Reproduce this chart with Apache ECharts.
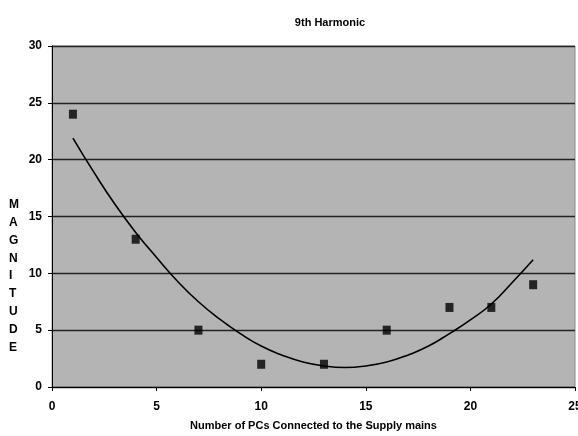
<!DOCTYPE html>
<html>
<head>
<meta charset="utf-8">
<script src="https://cdn.jsdelivr.net/npm/echarts@6/dist/echarts.min.js"></script>
<style>html,body{margin:0;padding:0;background:#fff}#c{width:578px;height:436px}</style>
</head>
<body>
<div id="c"></div>
<script>
var titleText = '9th Harmonic';
var xAxisName = 'Number of PCs Connected to the Supply mains';
var yAxisLetters = ['M','A','G','N','I','T','U','D','E'];
var pcCounts = [1, 4, 7, 10, 13, 16, 19, 21, 23];
var magnitudes = [24, 13, 5, 2, 2, 5, 7, 7, 9];
var trendX = [1, 2, 3, 4, 5, 6, 7, 8, 9, 10, 11, 12, 13, 14, 15, 16, 17, 18, 19, 20, 21, 22, 23];
var trendY = [21.9, 18.9, 16.1, 13.6, 11.4, 9.3, 7.5, 6.0, 4.7, 3.6, 2.8, 2.2, 1.85, 1.72, 1.85, 2.2, 2.8, 3.6, 4.7, 5.9, 7.3, 9.2, 11.2];

var FONT = '"Liberation Sans Narrow", "Liberation Sans", Arial, sans-serif';
var chart = echarts.init(document.getElementById('c'), null, {renderer: 'canvas'});
chart.setOption({
  animation: false,
  backgroundColor: '#ffffff',
  title: {
    text: titleText, left: 325, top: 12, textAlign: 'center',
    textStyle: {fontFamily: FONT, fontWeight: 'bold', fontSize: 11, color: '#000'}
  },
  grid: {left: 52, right: 3, top: 46, bottom: 49, outerBoundsMode: 'none', containLabel: false, show: true, backgroundColor: '#b4b4b4', borderColor: '#888888', borderWidth: 1},
  graphic: [{
    type: 'text', left: 9, top: 196,
    style: {text: yAxisLetters.join('\n'), font: 'bold 12px ' + FONT, lineHeight: 17.8, fill: '#000', align: 'center'}
  }],
  xAxis: {
    type: 'value', min: 0, max: 25, interval: 5,
    name: xAxisName, nameLocation: 'middle', nameGap: 33,
    nameTextStyle: {fontFamily: FONT, fontWeight: 'bold', fontSize: 11, color: '#000'},
    axisLine: {show: true, onZero: false, lineStyle: {color: '#000', width: 1}},
    axisTick: {show: true, length: 4, lineStyle: {color: '#000'}},
    axisLabel: {fontFamily: FONT, fontWeight: 'bold', fontSize: 12, color: '#000', margin: 14},
    splitLine: {show: false}
  },
  yAxis: {
    type: 'value', min: 0, max: 30, interval: 5,
    axisLine: {show: true, onZero: false, lineStyle: {color: '#000', width: 1}},
    axisTick: {show: true, length: 4, lineStyle: {color: '#000'}},
    axisLabel: {fontFamily: FONT, fontWeight: 'bold', fontSize: 12, color: '#000', margin: 10},
    splitLine: {show: true, lineStyle: {color: '#222', width: 1.4}}
  },
  series: [{
    type: 'line',
    data: trendX.map(function (x, i) { return [x, trendY[i]]; }),
    smooth: true, showSymbol: false, symbol: 'none',
    lineStyle: {color: '#000', width: 1.6}, z: 2
  }, {
    type: 'scatter',
    data: pcCounts.map(function (x, i) { return [x, magnitudes[i]]; }),
    symbol: 'rect', symbolSize: [8, 9],
    itemStyle: {color: '#000'}, z: 3
  }]
});
</script>
</body>
</html>
